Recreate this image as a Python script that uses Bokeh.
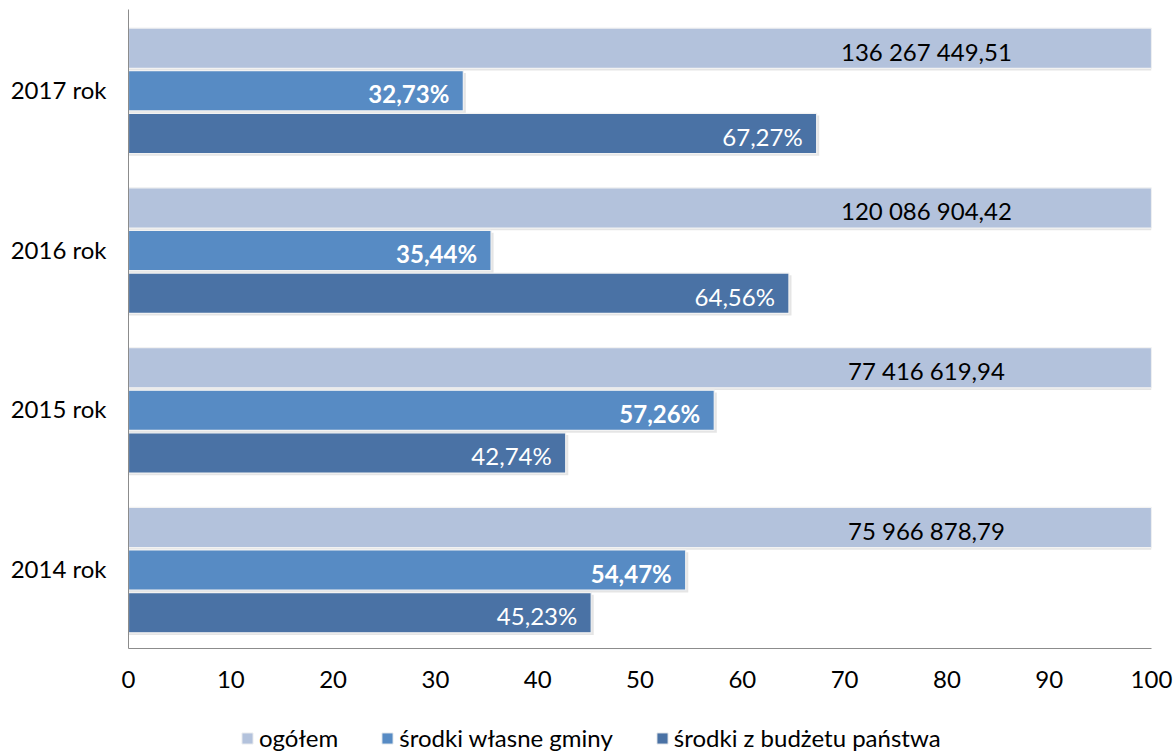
from bokeh.plotting import figure
from bokeh.layouts import column
from bokeh.models import FactorRange, Range1d, ColumnDataSource, Legend, LegendItem, FixedTicker
from bokeh.transform import dodge
from bokeh.core.properties import value
from bokeh.embed import file_html
from bokeh.resources import INLINE

# ---- data ----
years = ["2014 rok", "2015 rok", "2016 rok", "2017 rok"]
ogolem_total = [75966878.79, 77416619.94, 120086904.42, 136267449.51]
ogolem_pct = [100, 100, 100, 100]
wlasne_pct = [54.47, 57.26, 35.44, 32.73]
budzet_pct = [45.23, 42.74, 64.56, 67.27]
x_ticks = [0, 10, 20, 30, 40, 50, 60, 70, 80, 90, 100]
series_names = ["ogółem", "środki własne gminy", "środki z budżetu państwa"]
colors = ["#B3C2DC", "#578BC4", "#4A72A5"]

FONT = "Lato"
FS = "24px"


def fmt_total(v):
    s = f"{v:,.2f}"
    return s.replace(",", "\u2009X").replace(".", ",").replace("\u2009X", " ")


def fmt_pct(v):
    return f"{v:.2f}".replace(".", ",") + "%"


src = ColumnDataSource(dict(
    year=years,
    og=ogolem_pct,
    wl=wlasne_pct,
    bu=budzet_pct,
    og_sh=[v + 0.25 for v in ogolem_pct],
    wl_sh=[v + 0.25 for v in wlasne_pct],
    bu_sh=[v + 0.25 for v in budzet_pct],
    og_lbl=[fmt_total(v) for v in ogolem_total],
    wl_lbl=[fmt_pct(v) for v in wlasne_pct],
    bu_lbl=[fmt_pct(v) for v in budzet_pct],
    og_lx=[78.0 for _ in years],
))

p = figure(width=1174, height=700,
           y_range=FactorRange(*years), x_range=Range1d(0, 100),
           output_backend="svg", toolbar_location=None,
           min_border_left=128, min_border_right=23,
           min_border_top=9, min_border_bottom=52)
p.grid.visible = False
p.outline_line_color = None
p.background_fill_color = "white"

offsets = [0.258, -0.009, -0.276]
cols = ["og", "wl", "bu"]
H = 0.252

renderers = []
for off, c, col in zip(offsets, cols, colors):
    # soft shadow
    p.hbar(y=dodge("year", off - 0.014, range=p.y_range), left=0, right=c + "_sh",
           height=H, source=src, fill_color="#000000", fill_alpha=0.10, line_color=None)
for off, c, col in zip(offsets, cols, colors):
    r = p.hbar(y=dodge("year", off, range=p.y_range), left=0, right=c,
               height=H, source=src, fill_color=col, line_color="#F2F2F2", line_width=1.2)
    renderers.append(r)

# data labels
p.text(x="og_lx", y=dodge("year", offsets[0], range=p.y_range), text="og_lbl", source=src,
       text_font=value(FONT), text_font_size=FS, text_color="#000000",
       text_align="center", text_baseline="middle", y_offset=3)
p.text(x="wl", y=dodge("year", offsets[1], range=p.y_range), text="wl_lbl", source=src,
       text_font=value(FONT), text_font_size=FS, text_font_style="bold", text_color="#FFFFFF",
       text_align="right", text_baseline="middle", x_offset=-14, y_offset=3)
p.text(x="bu", y=dodge("year", offsets[2], range=p.y_range), text="bu_lbl", source=src,
       text_font=value(FONT), text_font_size=FS, text_color="#FFFFFF",
       text_align="right", text_baseline="middle", x_offset=-14, y_offset=3)

# axes
xa = p.xaxis[0]
xa.ticker = FixedTicker(ticks=x_ticks)
xa.axis_line_color = "#8C8C8C"
xa.major_tick_line_color = None
xa.minor_tick_line_color = None
xa.major_tick_out = 0
xa.major_tick_in = 0
xa.major_label_standoff = 22
xa.major_label_text_font = FONT
xa.major_label_text_font_size = FS
xa.major_label_text_color = "#000000"

ya = p.yaxis[0]
ya.axis_line_color = "#8C8C8C"
ya.major_tick_line_color = None
ya.minor_tick_line_color = None
ya.major_tick_out = 0
ya.major_tick_in = 0
ya.major_label_standoff = 22
ya.major_label_text_font = FONT
ya.major_label_text_font_size = FS
ya.major_label_text_color = "#000000"

# ---- legend strip (separate figure below the chart) ----
lf = figure(width=1174, height=52, x_range=Range1d(0, 1), y_range=Range1d(0, 1),
            output_backend="svg", toolbar_location=None,
            x_axis_location=None, y_axis_location=None,
            min_border_left=0, min_border_right=0, min_border_top=0, min_border_bottom=0)
lf.grid.visible = False
lf.outline_line_color = None
leg_r = []
for col in colors:
    # legend-only swatch renderer, kept outside the visible range of the strip
    leg_r.append(lf.hbar(y=[-5], right=[1], left=0, height=0.5,
                         fill_color=col, line_color="#F2F2F2", line_width=1))

legend = Legend(items=[LegendItem(label=n, renderers=[r]) for n, r in zip(series_names, leg_r)],
                location=(112, 0), orientation="horizontal",
                glyph_width=14, glyph_height=14, label_standoff=5, spacing=42,
                padding=0, margin=0, border_line_color=None, background_fill_alpha=0,
                label_text_font=FONT, label_text_font_size=FS, label_text_color="#000000")
lf.add_layout(legend, "center")

layout = column(p, lf, spacing=0)
open("out.html", "w").write(file_html(layout, INLINE))
